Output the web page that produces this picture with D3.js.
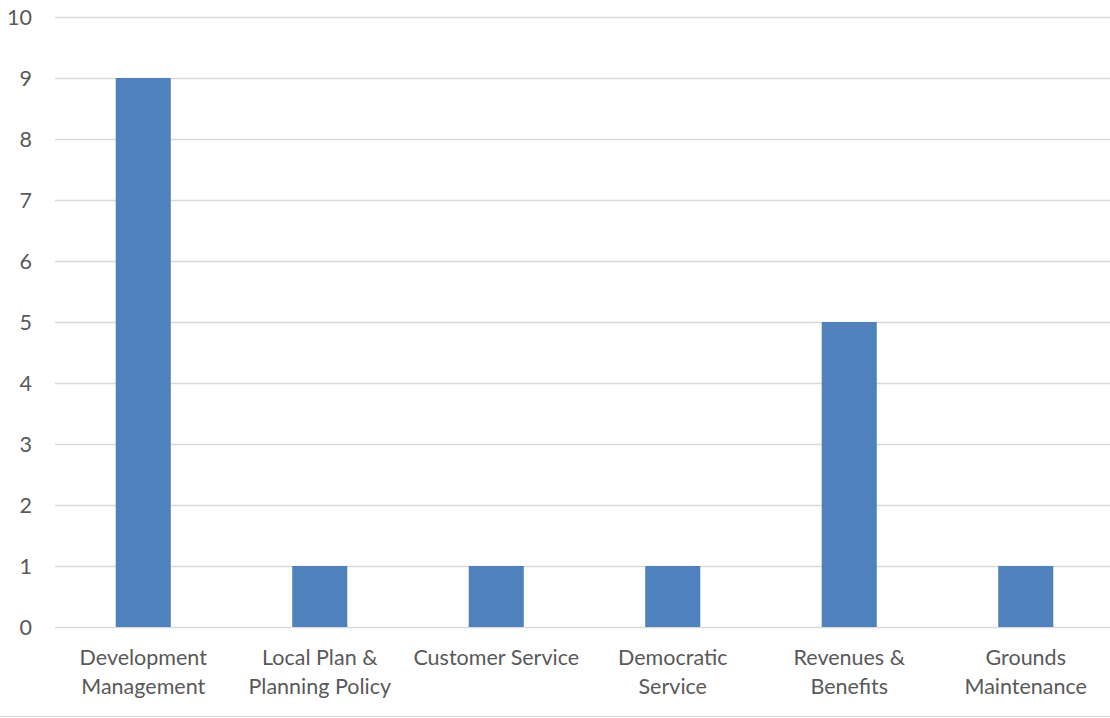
<!DOCTYPE html>
<html>
<head>
<meta charset="utf-8">
<script src="https://cdn.jsdelivr.net/npm/d3@7"></script>
<style>
  html, body { margin: 0; padding: 0; background: #fff; }
  svg { display: block; }
</style>
</head>
<body>
<svg id="chart" width="1110" height="718"></svg>
<script>
// Service areas and counts
const categories = [
  ["Development", "Management"],
  ["Local Plan &", "Planning Policy"],
  ["Customer Service"],
  ["Democratic", "Service"],
  ["Revenues &", "Benefits"],
  ["Grounds", "Maintenance"]
];
const values = [9, 1, 1, 1, 5, 1];
const yTicks = [0, 1, 2, 3, 4, 5, 6, 7, 8, 9, 10];

const W = 1110, H = 718;
const margin = { left: 55, top: 17, bottom: 91 };
const plotRight = 1114;
const svg = d3.select("#chart");

const keys = categories.map(c => c.join(" "));
const x = d3.scaleBand()
  .domain(keys)
  .range([margin.left, plotRight])
  .paddingInner(0.688)
  .paddingOuter(0.344);

const y = d3.scaleLinear()
  .domain([0, 10])
  .range([H - margin.bottom, margin.top]);

const font = "Lato, 'Open Sans', sans-serif";
const textColor = "#595959";

// Horizontal gridlines
svg.append("g")
  .selectAll("line")
  .data(yTicks)
  .join("line")
  .attr("x1", margin.left)
  .attr("x2", W)
  .attr("y1", d => Math.round(y(d)) + 0.5)
  .attr("y2", d => Math.round(y(d)) + 0.5)
  .attr("stroke", "#d9d9d9")
  .attr("stroke-width", 1.5);

// Y tick labels
svg.append("g")
  .selectAll("text")
  .data(yTicks)
  .join("text")
  .attr("x", 32)
  .attr("y", d => y(d))
  .attr("dy", "0.35em")
  .attr("text-anchor", "end")
  .attr("font-family", font)
  .attr("font-size", 21.5)
  .attr("fill", textColor)
  .text(d => d);

// Bars
svg.append("g")
  .selectAll("rect")
  .data(values)
  .join("rect")
  .attr("x", (d, i) => x(keys[i]))
  .attr("width", x.bandwidth())
  .attr("y", d => y(d))
  .attr("height", d => y(0) - y(d))
  .attr("fill", "#4f81bd");

// Category labels (wrapped in one or two lines)
const labels = svg.append("g")
  .selectAll("text")
  .data(categories)
  .join("text")
  .attr("text-anchor", "middle")
  .attr("font-family", font)
  .attr("font-size", 21.5)
  .attr("fill", textColor)
  .attr("x", (d, i) => x(keys[i]) + x.bandwidth() / 2)
  .attr("y", 665);
labels.selectAll("tspan")
  .data(d => d)
  .join("tspan")
  .attr("x", function() { return this.parentNode.getAttribute("x"); })
  .attr("dy", (d, i) => i === 0 ? 0 : 29)
  .text(d => d);

// Outer chart border along the bottom
svg.append("line")
  .attr("x1", 0).attr("x2", W)
  .attr("y1", 716.5).attr("y2", 716.5)
  .attr("stroke", "#d9d9d9")
  .attr("stroke-width", 1);
</script>
</body>
</html>
